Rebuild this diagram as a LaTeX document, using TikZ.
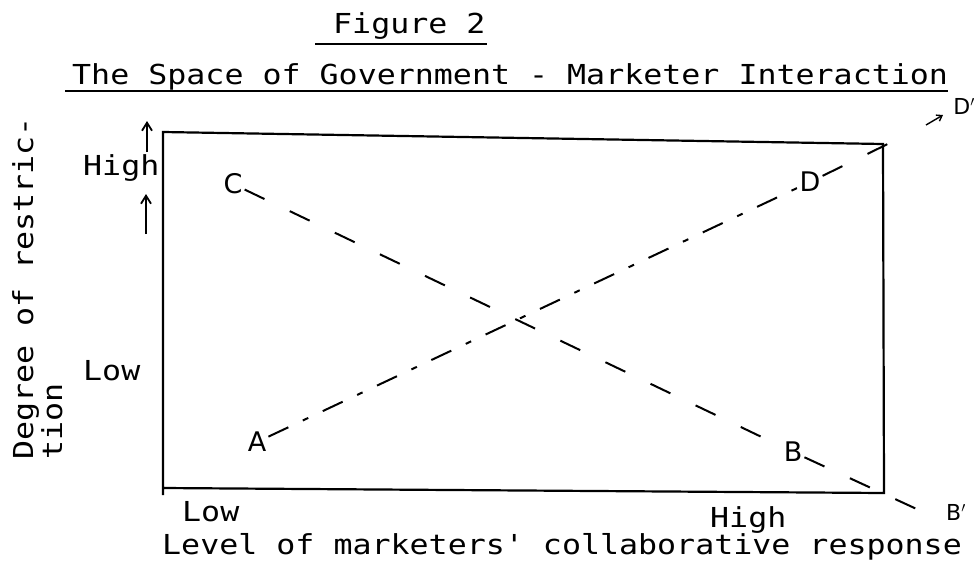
\documentclass[tikz,border=0pt]{standalone}
\usepackage{fontspec}
\usetikzlibrary{arrows.meta}
\newfontfamily\tw[FakeStretch=1.15]{DejaVu Sans Mono}
\newfontfamily\hand{DejaVu Sans}
\begin{document}
\begin{tikzpicture}[x=1pt,y=-1pt,
  lbl/.style={font=\tw\fontsize{27.5}{30}\selectfont, anchor=base west, inner sep=0pt},
  frame/.style={line width=2.2pt},
  uline/.style={line width=2.6pt},
  dashln/.style={line width=2pt, dash pattern=on 22pt off 28pt},
  dashdot/.style={line width=2pt, dash pattern=on 22pt off 16pt on 6pt off 16pt},
  letter/.style={font=\hand\fontsize{27}{27}\selectfont, inner sep=2pt, fill=white},
  pletter/.style={font=\hand\fontsize{22}{22}\selectfont, inner sep=1pt},
  smallarr/.style={line width=1.8pt, -{Straight Barb[length=8pt,width=10pt]}}]
\useasboundingbox (0,0) rectangle (979,560);
% headings
\node[lbl] (fig) at (333,33) {Figure 2};
\coordinate (fu1) at (315,44); \coordinate (fu2) at (487,44);
\draw[uline] (fu1) -- (fu2);
\node[lbl] (title) at (72,84) {The Space of Government - Marketer Interaction};
\coordinate (tu1) at (65,91); \coordinate (tu2) at (948,91);
\draw[uline] (tu1) -- (tu2);
% frame
\coordinate (tl) at (163,132);
\coordinate (tr) at (883,144);
\coordinate (br) at (884,493);
\coordinate (bl) at (163,488);
\coordinate (blx) at (163,495);
\draw[frame] (blx) -- (tl) -- (tr) -- (br) -- (bl);
% axis labels
\node[lbl, rotate=90] (ylab1) at (33,460) {Degree of restric-};
\node[lbl, rotate=90] (ylab2) at (62,460) {tion};
\node[lbl] (yhigh) at (83,175) {High};
\node[lbl] (ylow) at (83,380) {Low};
\node[lbl] (xlow) at (182,521) {Low};
\node[lbl] (xhigh) at (710,527) {High};
\node[lbl] (xlab) at (162,554) {Level of marketers' collaborative response};
% small arrows
\coordinate (a1s) at (147,152); \coordinate (a1e) at (147,121);
\coordinate (a2s) at (146,234); \coordinate (a2e) at (146,194);
\draw[smallarr] (a1s) -- (a1e);
\draw[smallarr] (a2s) -- (a2e);
% lines
\node[letter] (A) at (257,442) {A};
\node[letter] (D) at (810,182) {D};
\node[letter] (C) at (233,184) {C};
\node[letter] (B) at (793,452) {B};
\node[pletter] (Dp) at (964,106) {D$'$};
\node[pletter] (Bp) at (956,512) {B$'$};
\coordinate (Dend) at (902,137);
\coordinate (Bend) at (934,517);
\draw[dashdot] (A) -- (D);
\draw[dashln] (D) -- (Dend);
\draw[dashln] (C) -- (B);
\draw[dashln] (B) -- (Bend);
\coordinate (da1) at (926,125); \coordinate (da2) at (943,115);
\draw[line width=1.4pt, -{Straight Barb[length=5pt,width=7pt]}] (da1) -- (da2);
\end{tikzpicture}
\end{document}
